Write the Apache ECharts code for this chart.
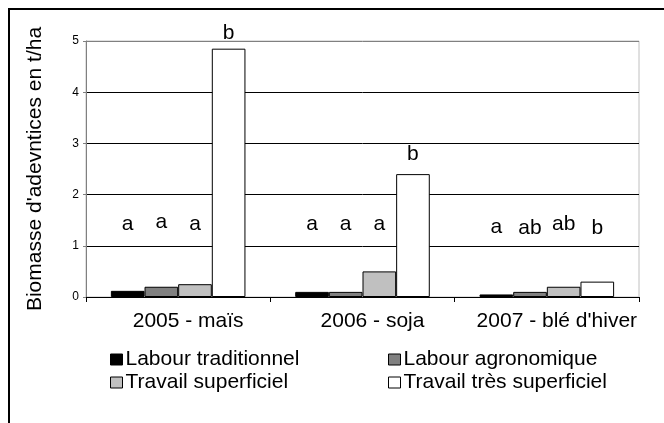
<!DOCTYPE html>
<html>
<head>
<meta charset="utf-8">
<script src="https://cdn.jsdelivr.net/npm/echarts@6/dist/echarts.min.js"></script>
<style>
  html, body { margin: 0; padding: 0; background: #fff; }
  #chart { width: 664px; height: 423px; }
</style>
</head>
<body>
<div id="chart"></div>
<script>
// donnees
const categories = ['2005 - maïs', '2006 - soja', "2007 - blé d'hiver"];
const seriesNames = ['Labour traditionnel', 'Labour agronomique', 'Travail superficiel', 'Travail très superficiel'];
const labourTraditionnel = [0.12, 0.1, 0.05];
const labourAgronomique = [0.2, 0.1, 0.1];
const travailSuperficiel = [0.25, 0.5, 0.2];
const travailTresSuperficiel = [4.85, 2.4, 0.3];
const yTicks = [0, 1, 2, 3, 4, 5];

// lettres de significativite et hauteur de leur ligne de base (t/ha)
const lettresTraditionnel = ['a', 'a', 'a'];
const lettresAgronomique = ['a', 'a', 'ab'];
const lettresSuperficiel = ['a', 'a', 'ab'];
const lettresTresSuperficiel = ['b', 'b', 'b'];
const niveauTraditionnel = [1.29, 1.29, 1.23];
const niveauAgronomique = [1.32, 1.29, 1.21];
const niveauSuperficiel = [1.29, 1.29, 1.29];
const niveauTresSuperficiel = [5.02, 2.65, 1.21];

const values = [labourTraditionnel, labourAgronomique, travailSuperficiel, travailTresSuperficiel];
const lettres = [lettresTraditionnel, lettresAgronomique, lettresSuperficiel, lettresTresSuperficiel];
const niveaux = [niveauTraditionnel, niveauAgronomique, niveauSuperficiel, niveauTresSuperficiel];
const colors = ['#000000', '#808080', '#c0c0c0', '#ffffff'];

const font = 'Liberation Sans';
const chart = echarts.init(document.getElementById('chart'));

function buildSeries(distances) {
  return seriesNames.map((name, s) => ({
    name: name,
    type: 'bar',
    barGap: '0%',
    barCategoryGap: '27%',
    itemStyle: { color: colors[s], borderColor: '#000', borderWidth: 1 },
    label: {
      show: true,
      position: 'top',
      fontFamily: font,
      fontSize: 21,
      color: '#000',
      formatter: p => lettres[s][p.dataIndex]
    },
    data: values[s].map((v, i) => ({
      value: v,
      label: { distance: distances ? distances[s][i] : 5 }
    }))
  }));
}

const legendBase = {
  orient: 'vertical',
  itemWidth: 12,
  itemHeight: 11,
  itemGap: 2,
  icon: 'rect',
  textStyle: { fontFamily: font, fontSize: 21, color: '#000', padding: [0, 0, 0, -2] },
  itemStyle: { borderColor: '#000', borderWidth: 1 }
};

chart.setOption({
  animation: false,
  color: colors,
  textStyle: { fontFamily: font },
  grid: {
    left: 86, right: 25, top: 41, bottom: 126,
    show: true, borderColor: '#c0c0c0', borderWidth: 1
  },
  graphic: [{
    type: 'rect',
    shape: { x: 9, y: 9, width: 700, height: 500 },
    style: { fill: 'none', stroke: '#000', lineWidth: 2 },
    silent: true
  }],
  legend: [
    Object.assign({}, legendBase, { left: 105, top: 344, data: [seriesNames[0], seriesNames[2]] }),
    Object.assign({}, legendBase, { left: 383, top: 344, data: [seriesNames[1], seriesNames[3]] })
  ],
  xAxis: {
    type: 'category',
    data: categories,
    axisLine: { lineStyle: { color: '#000', width: 1 } },
    axisTick: { show: true, length: 5, lineStyle: { color: '#000' } },
    axisLabel: {
      interval: 0,
      hideOverlap: false,
      fontFamily: font,
      fontSize: 21,
      color: '#000',
      margin: 14,
      padding: [0, 0, 0, 20]
    }
  },
  yAxis: {
    type: 'value',
    min: 0,
    max: yTicks[yTicks.length - 1],
    interval: 1,
    name: "Biomasse d'adevntices en t/ha",
    nameLocation: 'middle',
    nameGap: 40,
    nameTextStyle: { fontFamily: font, fontSize: 21, color: '#000' },
    axisLine: { show: true, lineStyle: { color: '#808080' } },
    axisTick: { show: true, length: 3, lineStyle: { color: '#808080' } },
    axisLabel: { fontFamily: font, fontSize: 12, color: '#000', margin: 7 },
    splitLine: {
      lineStyle: { color: ['#000', '#000', '#000', '#000', '#000', '#808080'], width: 1 }
    }
  },
  series: buildSeries(null)
});

// place les lettres a leur hauteur
const descent = 3.5;
const distances = values.map((vals, s) => vals.map((v, i) => {
  const top = chart.convertToPixel({ yAxisIndex: 0 }, v);
  const base = chart.convertToPixel({ yAxisIndex: 0 }, niveaux[s][i]);
  return top - base - descent;
}));
chart.setOption({ series: buildSeries(distances) });
</script>
</body>
</html>
